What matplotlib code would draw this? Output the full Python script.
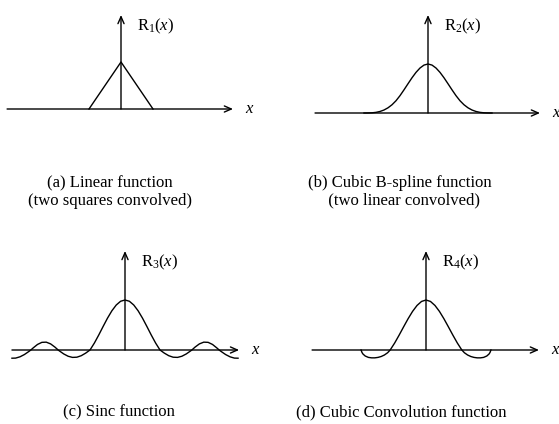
import matplotlib
matplotlib.use("Agg")
import matplotlib.pyplot as plt
import numpy as np

plt.rcParams["font.family"] = ["Liberation Serif", "DejaVu Serif"]
plt.rcParams["mathtext.fontset"] = "custom"
plt.rcParams["mathtext.rm"] = "Liberation Serif"
plt.rcParams["mathtext.it"] = "Liberation Serif:italic"

# ---- kernel shapes (right half; each kernel is symmetric about x = 0) ----
# (a) linear interpolation kernel
tri_x = [-1.0, 0.0, 1.0]
tri_y = [0.0, 1.0, 0.0]

# (b) cubic B-spline, normalised to a unit peak
bsp_x = [0, .125, .25, .375, .5, .625, .75, .875, 1.0,
         1.125, 1.25, 1.375, 1.5, 1.625, 1.75, 1.875, 2.0]
bsp_y = [1.0, .978, .918, .829, .719, .597, .473, .354, .250,
         .168, .106, .061, .031, .013, .004, .001, 0.0]

# (c) sinc
sinc_x = [0, .125, .25, .375, .5, .625, .75, .875, 1.0,
          1.125, 1.25, 1.375, 1.5, 1.625, 1.75, 1.875, 1.91,
          2.0, 2.125, 2.25, 2.375, 2.5, 2.625, 2.69,
          2.75, 2.875, 3.0, 3.125, 3.23]
sinc_y = [1.0, .975, .900, .784, .637, .471, .300, .139, 0.0,
          -.063, -.114, -.144, -.148, -.125, -.079, -.018, 0.0,
          .057, .122, .157, .153, .111, .041, 0.0,
          -.031, -.091, -.136, -.162, -.164]

# (d) cubic convolution
cc_x = [0, .14, .28, .42, .56, .70, .84, .98, 1.12,
        1.2, 1.3, 1.4, 1.5, 1.6, 1.7, 1.8, 1.9, 1.97, 2.0, 2.03]
cc_y = [1.0, .971, .891, .772, .625, .463, .297, .139, 0.0,
        -.055, -.10, -.13, -.148, -.157, -.157, -.148, -.12, -.08, -.05, 0.0]

labels = [r"R$_1$($x$)", r"R$_2$($x$)", r"R$_3$($x$)", r"R$_4$($x$)"]
captions = ["(a) Linear function\n(two squares convolved)",
            "(b) Cubic B-spline function\n  (two linear convolved)",
            "(c) Sinc function",
            "(d) Cubic Convolution function"]


def mirror(xs, ys):
    xs = np.asarray(xs, float)
    ys = np.asarray(ys, float)
    return (np.concatenate([-xs[:0:-1], xs]),
            np.concatenate([ys[:0:-1], ys]))


W, H = 559, 424
fig = plt.figure(figsize=(W / 100, H / 100), dpi=100)

# panel layout in pixels: origin (cx, cy), unit sizes, axis extents
panels = [
    dict(cx=121, cy=109, ux=32, uy=47, x0=-3.56, x1=3.5, ytop=2.0),
    dict(cx=428, cy=113, ux=32, uy=49, x0=-3.53, x1=3.5, ytop=2.0),
    dict(cx=125, cy=350, ux=35, uy=50, x0=-3.23, x1=3.26, ytop=1.98),
    dict(cx=426, cy=350, ux=32, uy=50, x0=-3.56, x1=3.53, ytop=1.98),
]

curves = [
    (tri_x, tri_y),
    mirror(bsp_x, bsp_y),
    mirror(sinc_x, sinc_y),
    mirror(cc_x, cc_y),
]

lw = 1.0
for p, (cxs, cys), lab in zip(panels, curves, labels):
    XR, YB, YT = 4.5, 0.7, 2.4
    left = (p["cx"] - XR * p["ux"]) / W
    bottom = 1 - (p["cy"] + YB * p["uy"]) / H
    ax = fig.add_axes([left, bottom, 2 * XR * p["ux"] / W,
                       (YB + YT) * p["uy"] / H])
    ax.set_xlim(-XR, XR)
    ax.set_ylim(-YB, YT)
    ax.axis("off")
    ax.patch.set_alpha(0)

    ax.plot(cxs, cys, color="black", lw=lw, solid_joinstyle="round")
    # horizontal axis with open arrow head
    ax.annotate("", xy=(p["x1"], 0), xytext=(p["x0"], 0),
                arrowprops=dict(arrowstyle="->,head_length=0.5,head_width=0.22",
                                lw=lw, color="black", shrinkA=0, shrinkB=0))
    # vertical axis
    ax.annotate("", xy=(0, p["ytop"]), xytext=(0, 0),
                arrowprops=dict(arrowstyle="->,head_length=0.5,head_width=0.22",
                                lw=lw, color="black", shrinkA=0, shrinkB=0))
    ax.text(16 / p["ux"], p["ytop"] - 11 / p["uy"], lab, fontsize=12,
            ha="left", va="center")
    ax.text(p["x1"] + 12 / p["ux"], 0, r"$x$", fontsize=12,
            ha="left", va="center", clip_on=False)

cap_pos = [(110, 192), (400, 192), (119, 412), (401, 412)]
for (px, py), cap in zip(cap_pos, captions):
    fig.text(px / W, 1 - py / H, cap, fontsize=12, ha="center",
             va="center", linespacing=1.12)

fig.savefig("out.png", dpi=100)
